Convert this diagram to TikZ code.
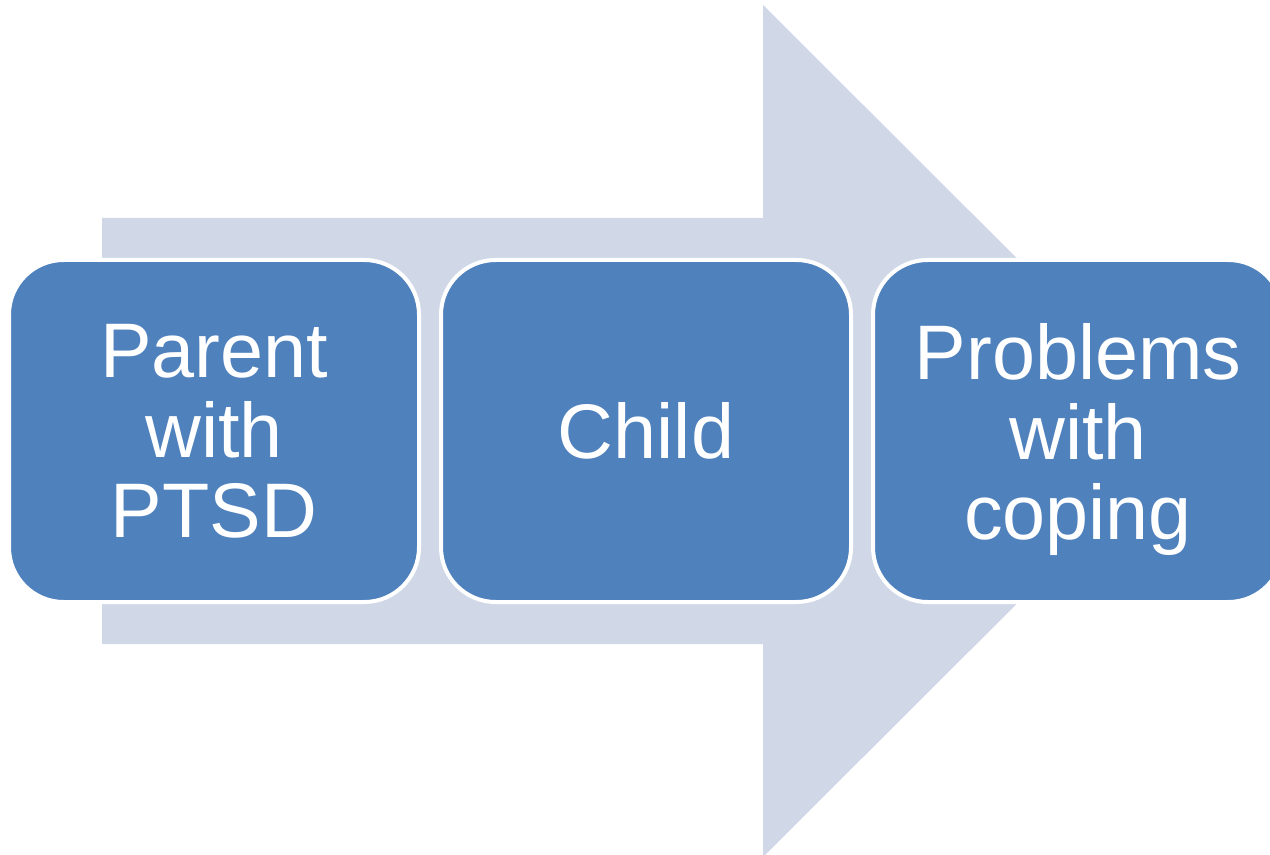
\documentclass[tikz,border=0pt]{standalone}
\usepackage{fontspec}
\setmainfont{Liberation Sans}
\usepackage{xcolor}
\usetikzlibrary{positioning}

\definecolor{boxblue}{HTML}{4F81BD}
\definecolor{arrowgrey}{HTML}{D0D8E8}

\tikzset{
  stepbox/.style={draw=white, line width=3pt, fill=boxblue, text=white,
    rounded corners=41pt, minimum width=307.5pt, minimum height=256.5pt,
    align=center, font=\fontsize{58}{60}\selectfont},
}
\newcommand{\nodepth}[1]{\raisebox{0pt}[\height][0pt]{#1}}

\begin{document}
\begin{tikzpicture}[x=0.75pt, y=-0.75pt, node distance=13.5pt]
  \useasboundingbox (0,0) rectangle (1270,855);
  \clip (0,0) rectangle (1270,855);
  % big arrow behind
  \fill[arrowgrey] (102,218) -- (763,218) -- (763,5) -- (1190,431)
    -- (763,857) -- (763,644) -- (102,644) -- cycle;
  % the three steps
  \node[stepbox] (parent) at (214,431) {Parent\\with\\PTSD};
  \node[stepbox, right=of parent] (child) {Child};
  \node[stepbox, right=of child] (problems) {Problems\\with\\\nodepth{coping}};
\end{tikzpicture}
\end{document}
